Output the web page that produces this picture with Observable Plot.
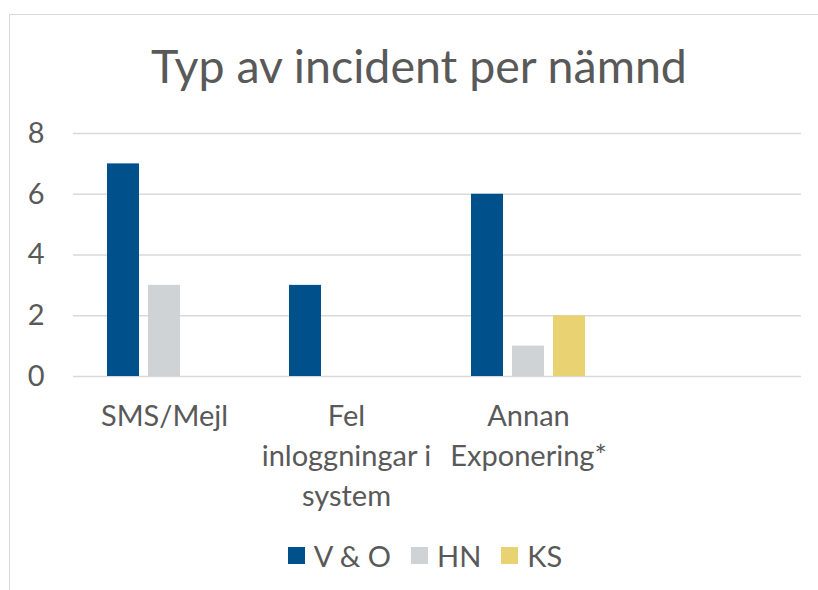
<!DOCTYPE html>
<html>
<head>
<meta charset="utf-8">
<script src="https://cdn.jsdelivr.net/npm/d3@7"></script>
<script src="https://cdn.jsdelivr.net/npm/@observablehq/plot@0.6"></script>
<style>
  html, body { margin: 0; padding: 0; background: #fff; }
  #chart { position: relative; width: 818px; height: 590px; overflow: hidden; font-family: Lato, sans-serif; color: #595959; }
  #frame { position: absolute; left: 9px; top: 14px; width: 900px; height: 700px; border: 1.5px solid #d9d9d9; box-sizing: border-box; }
  #title { position: absolute; left: 0; width: 838px; top: 42px; text-align: center; font-size: 46.5px; line-height: 46px; white-space: nowrap; }
  #plot { position: absolute; left: 0; top: 100px; }
  #legend { position: absolute; left: 0; width: 850px; top: 540px; height: 30px; display: flex; justify-content: center; align-items: center; font-size: 29px; }
  .item { display: flex; align-items: center; margin: 0 10px; }
  .swatch { width: 17px; height: 17px; margin-right: 9px; }
</style>
</head>
<body>
<div id="chart">
  <div id="frame"></div>
  <div id="title"></div>
  <div id="plot"></div>
  <div id="legend"></div>
</div>
<script>
const titleText = "Typ av incident per nämnd";
const categories = ["SMS/Mejl", "Fel inloggningar i system", "Annan Exponering*", " "];
const categoryLines = ["SMS/Mejl", "Fel\ninloggningar i\nsystem", "Annan\nExponering*", ""];
const seriesNames = ["V & O", "HN", "KS"];
const seriesColors = ["#00508c", "#d0d3d6", "#e8d272"];
const valuesVO = [7, 3, 6];
const valuesHN = [3, 0, 1];
const valuesKS = [0, 0, 2];
const yTicks = [0, 2, 4, 6, 8];

const seriesValues = [valuesVO, valuesHN, valuesKS];
const rows = [];
seriesNames.forEach((s, si) => {
  seriesValues[si].forEach((v, ci) => rows.push({category: categories[ci], series: s, value: v}));
});
const gridRows = categories.flatMap(c => yTicks.map(v => ({category: c, value: v})));
const labelMap = new Map(categories.map((c, i) => [c, categoryLines[i]]));

document.getElementById("title").textContent = titleText;

const chart = Plot.plot({
  width: 818,
  height: 420,
  marginLeft: 72,
  marginRight: 16,
  marginTop: 33,
  marginBottom: 144,
  style: {fontFamily: "Lato, sans-serif", fontSize: "29px", color: "#595959", background: "transparent", overflow: "visible"},
  fx: {domain: categories, padding: 0, label: null},
  x: {domain: seriesNames, paddingInner: 0.23, paddingOuter: 0.82, axis: null},
  y: {domain: [0, 8], label: null},
  color: {domain: seriesNames, range: seriesColors},
  marks: [
    Plot.ruleY(gridRows, {fx: "category", y: "value", stroke: "#d9d9d9", strokeWidth: 1.5}),
    Plot.barY(rows, {fx: "category", x: "series", y: "value", fill: "series"}),
    Plot.axisY({ticks: yTicks, tickSize: 0, tickPadding: 29, label: null}),
    Plot.axisFx({anchor: "bottom", tickSize: 0, tickPadding: 21, lineHeight: 1.38, tickFormat: d => labelMap.get(d), label: null})
  ]
});
document.getElementById("plot").appendChild(chart);

const legend = document.getElementById("legend");
seriesNames.forEach((s, i) => {
  const item = document.createElement("div");
  item.className = "item";
  const sw = document.createElement("div");
  sw.className = "swatch";
  sw.style.background = seriesColors[i];
  const lab = document.createElement("span");
  lab.textContent = s;
  item.appendChild(sw);
  item.appendChild(lab);
  legend.appendChild(item);
});
</script>
</body>
</html>
